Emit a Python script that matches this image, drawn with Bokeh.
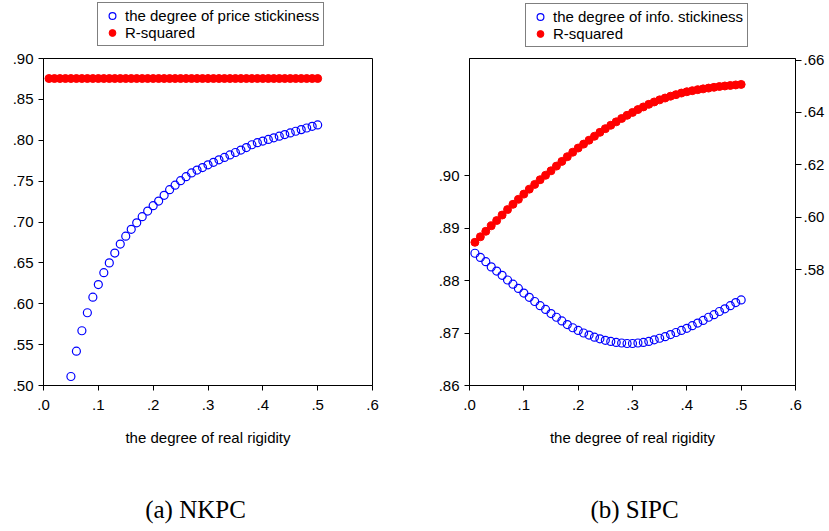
from bokeh.plotting import figure
from bokeh.models import Range1d, LinearAxis, FixedTicker, Legend, LegendItem, Label
from bokeh.layouts import row, column
from bokeh.embed import file_html
from bokeh.resources import INLINE

# ---------------- data ----------------
# x grid (the degree of real rigidity)
x_all = [0.01, 0.02, 0.03, 0.04, 0.05, 0.06, 0.07, 0.08, 0.09, 0.10,
         0.11, 0.12, 0.13, 0.14, 0.15, 0.16, 0.17, 0.18, 0.19, 0.20,
         0.21, 0.22, 0.23, 0.24, 0.25, 0.26, 0.27, 0.28, 0.29, 0.30,
         0.31, 0.32, 0.33, 0.34, 0.35, 0.36, 0.37, 0.38, 0.39, 0.40,
         0.41, 0.42, 0.43, 0.44, 0.45, 0.46, 0.47, 0.48, 0.49, 0.50]

# (a) NKPC
nkpc_x_stick = [0.05, 0.06, 0.07, 0.08, 0.09, 0.10,
                0.11, 0.12, 0.13, 0.14, 0.15, 0.16, 0.17, 0.18, 0.19, 0.20,
                0.21, 0.22, 0.23, 0.24, 0.25, 0.26, 0.27, 0.28, 0.29, 0.30,
                0.31, 0.32, 0.33, 0.34, 0.35, 0.36, 0.37, 0.38, 0.39, 0.40,
                0.41, 0.42, 0.43, 0.44, 0.45, 0.46, 0.47, 0.48, 0.49, 0.50]
nkpc_stick = [0.511, 0.542, 0.567, 0.589, 0.608, 0.6235,
              0.638, 0.650, 0.662, 0.673, 0.6826, 0.691, 0.699, 0.7065, 0.7134, 0.720,
              0.7256, 0.7326, 0.7395, 0.745, 0.7505, 0.7555, 0.760, 0.7635, 0.7666, 0.770,
              0.773, 0.776, 0.779, 0.782, 0.785, 0.788, 0.791, 0.7945, 0.797, 0.799,
              0.801, 0.803, 0.805, 0.807, 0.809, 0.811, 0.813, 0.815, 0.817, 0.8187]
nkpc_r2 = [0.8755, 0.8755, 0.8755, 0.8755, 0.8755, 0.8755, 0.8755, 0.8755, 0.8755, 0.8755,
           0.8755, 0.8755, 0.8755, 0.8755, 0.8755, 0.8755, 0.8755, 0.8755, 0.8755, 0.8755,
           0.8755, 0.8755, 0.8755, 0.8755, 0.8755, 0.8755, 0.8755, 0.8755, 0.8755, 0.8755,
           0.8755, 0.8755, 0.8755, 0.8755, 0.8755, 0.8755, 0.8755, 0.8755, 0.8755, 0.8755,
           0.8755, 0.8755, 0.8755, 0.8755, 0.8755, 0.8755, 0.8755, 0.8755, 0.8755, 0.8755]

# (b) SIPC
sipc_stick = [0.8852, 0.8844, 0.8836, 0.8826, 0.8818, 0.8810, 0.8801, 0.8793, 0.8785, 0.8776,
              0.8768, 0.8760, 0.8752, 0.8745, 0.8737, 0.8730, 0.8723, 0.8716, 0.8710, 0.8705,
              0.8700, 0.8696, 0.8692, 0.8689, 0.8686, 0.8684, 0.8682, 0.8681, 0.8680, 0.8680,
              0.8681, 0.8682, 0.8684, 0.8687, 0.8690, 0.8693, 0.8697, 0.8701, 0.8705, 0.8709,
              0.8714, 0.8719, 0.8724, 0.8730, 0.8735, 0.8741, 0.8746, 0.8752, 0.8758, 0.8763]
sipc_r2 = [0.5904, 0.5925, 0.5946, 0.5967, 0.5987, 0.6008, 0.6029, 0.6049, 0.6068, 0.6088,
           0.6107, 0.6125, 0.6143, 0.6160, 0.6177, 0.6195, 0.6213, 0.6231, 0.6248, 0.6264,
           0.6279, 0.6294, 0.6309, 0.6324, 0.6338, 0.6351, 0.6364, 0.6377, 0.6389, 0.6400,
           0.6411, 0.6421, 0.6431, 0.6440, 0.6448, 0.6455, 0.6462, 0.6468, 0.6474, 0.6479,
           0.6483, 0.6487, 0.6490, 0.6493, 0.6496, 0.6499, 0.6501, 0.6503, 0.6505, 0.6507]

# ticks
x_ticks = [0.0, 0.1, 0.2, 0.3, 0.4, 0.5, 0.6]
x_tick_labels = [".0", ".1", ".2", ".3", ".4", ".5", ".6"]
nkpc_y_ticks = [0.50, 0.55, 0.60, 0.65, 0.70, 0.75, 0.80, 0.85, 0.90]
nkpc_y_labels = [".50", ".55", ".60", ".65", ".70", ".75", ".80", ".85", ".90"]
sipc_l_ticks = [0.86, 0.87, 0.88, 0.89, 0.90]
sipc_l_labels = [".86", ".87", ".88", ".89", ".90"]
sipc_r_ticks = [0.58, 0.60, 0.62, 0.64, 0.66]
sipc_r_labels = [".58", ".60", ".62", ".64", ".66"]

x_title = "the degree of real rigidity"
legend_stick_a = "the degree of price stickiness"
legend_stick_b = "the degree of info. stickiness"
legend_r2 = "R-squared"
caption_a = "(a) NKPC"
caption_b = "(b) SIPC"

SANS = "Liberation Sans"
SERIF = "Liberation Serif"
LEG_H = 48
MAIN_H = 408
CAP_H = 75
W1 = 428
W2 = 401

STICK_STYLE = dict(marker="circle", size=8, fill_color=None, line_color="blue", line_width=1.2)
R2_STYLE = dict(marker="circle", size=8, fill_color="red", line_color="red", line_width=1)


def style_axis(ax, ticks, labels):
    ax.ticker = FixedTicker(ticks=ticks)
    ax.major_label_overrides = dict(zip(ticks, labels))
    ax.major_tick_in = 0
    ax.major_tick_out = 5
    ax.minor_tick_line_color = None
    ax.axis_line_color = "black"
    ax.axis_line_width = 1
    ax.major_tick_line_color = "black"
    ax.major_label_text_font = SANS
    ax.major_label_text_font_size = "15px"
    ax.major_label_text_color = "black"
    ax.major_label_standoff = 5


def blank_fig(width, height):
    # frame covers the whole canvas; its ranges lie beyond the data, so only
    # annotations (legend / captions) are visible here
    p = figure(width=width, height=height, output_backend="svg", toolbar_location=None,
               x_range=Range1d(2, 3), y_range=Range1d(2, 3),
               x_axis_location=None, y_axis_location=None,
               min_border_left=0, min_border_right=0, min_border_top=0, min_border_bottom=0)
    p.title.visible = False
    p.xgrid.visible = False
    p.ygrid.visible = False
    p.outline_line_color = None
    p.background_fill_color = "white"
    p.border_fill_color = "white"
    return p


def main_fig(width, ml, mr, mb, yr):
    p = figure(width=width, height=MAIN_H, output_backend="svg", toolbar_location=None,
               x_range=Range1d(0, 0.6), y_range=yr,
               min_border_left=ml, min_border_right=mr, min_border_top=10,
               min_border_bottom=mb)
    p.title.visible = False
    p.xgrid.visible = False
    p.ygrid.visible = False
    p.outline_line_color = "black"
    p.outline_line_width = 1
    p.outline_line_alpha = 1
    p.background_fill_color = "white"
    p.border_fill_color = "white"
    style_axis(p.xaxis[0], x_ticks, x_tick_labels)
    p.xaxis.major_label_standoff = 9
    p.xaxis.axis_label = x_title
    p.xaxis.axis_label_text_font = SANS
    p.xaxis.axis_label_text_font_style = "normal"
    p.xaxis.axis_label_text_font_size = "15px"
    p.xaxis.axis_label_text_color = "black"
    p.xaxis.axis_label_standoff = 16
    return p


def legend_fig(width, label_stick, xs, ys_stick, ys_r2, loc):
    lf = blank_fig(width, LEG_H)
    gb = lf.scatter(xs, ys_stick, **STICK_STYLE)
    gr = lf.scatter(xs, ys_r2, **R2_STYLE)
    leg = Legend(items=[LegendItem(label=label_stick, renderers=[gb]),
                        LegendItem(label=legend_r2, renderers=[gr])],
                 location=loc, orientation="vertical")
    leg.border_line_color = "black"
    leg.border_line_width = 1
    leg.background_fill_color = "white"
    leg.background_fill_alpha = 1
    leg.padding = 4
    leg.spacing = 0
    leg.margin = 0
    leg.glyph_width = 20
    leg.glyph_height = 17
    leg.label_height = 17
    leg.label_standoff = 3
    leg.label_text_font = SANS
    leg.label_text_font_size = "15px"
    leg.label_text_color = "black"
    lf.add_layout(leg)
    return lf


# ---------------- legends ----------------
leg1 = legend_fig(W1, legend_stick_a, nkpc_x_stick, nkpc_stick, nkpc_r2[:len(nkpc_x_stick)], (97, 2))
leg2 = legend_fig(W2, legend_stick_b, x_all, sipc_stick, sipc_r2, (97, 1))

# ---------------- panel (a) ----------------
p1 = main_fig(W1, 43, 56, 70, Range1d(0.50, 0.90))
style_axis(p1.yaxis[0], nkpc_y_ticks, nkpc_y_labels)
p1.scatter(nkpc_x_stick, nkpc_stick, **STICK_STYLE)
p1.scatter(x_all, nkpc_r2, **R2_STYLE)

# ---------------- panel (b) ----------------
p2 = main_fig(W2, 41, 34, 71, Range1d(0.86, 0.9223))
style_axis(p2.yaxis[0], sipc_l_ticks, sipc_l_labels)
p2.extra_y_ranges = {"r2": Range1d(0.5357, 0.6606)}
rax = LinearAxis(y_range_name="r2")
style_axis(rax, sipc_r_ticks, sipc_r_labels)
rax.major_tick_out = 6
rax.major_label_standoff = 2
p2.add_layout(rax, "right")
p2.scatter(x_all, sipc_stick, **STICK_STYLE)
p2.scatter(x_all, sipc_r2, y_range_name="r2", **R2_STYLE)

# ---------------- captions ----------------
cap = blank_fig(W1 + W2, CAP_H)
for txt, cx in ((caption_a, 195), (caption_b, 634)):
    cap.add_layout(Label(x=cx, y=22, x_units="screen", y_units="screen", text=txt,
                         text_align="center", text_baseline="middle", text_font=SERIF,
                         text_font_size="25px", text_color="black"))

layout = column(row(leg1, leg2), row(p1, p2), cap)
open("out.html", "w").write(file_html(layout, INLINE))
